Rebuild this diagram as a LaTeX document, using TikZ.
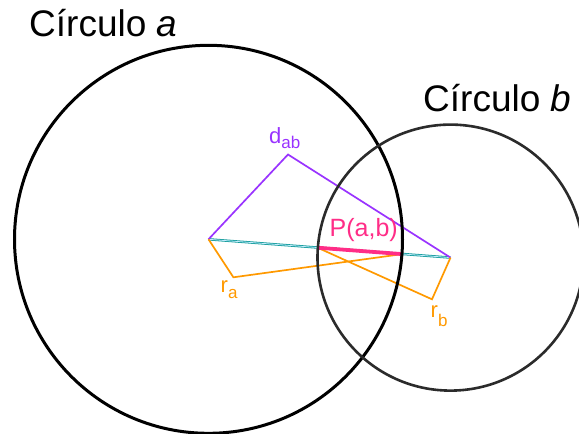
\documentclass[tikz,border=0pt]{standalone}
\usepackage{fontspec}
\setmainfont{Liberation Sans}
\definecolor{dabcol}{HTML}{9933FF}
\definecolor{rcol}{HTML}{FF9900}
\definecolor{pcol}{HTML}{FF2D87}
\definecolor{tealcol}{HTML}{119A9A}
\definecolor{circb}{HTML}{2B2B2B}
\newcommand{\sublbl}[3]{{\fontsize{22}{24}\selectfont #1}\raisebox{-#3}{\fontsize{17}{18}\selectfont #2}}
\tikzset{
  bigtitle/.style={anchor=base west, inner sep=0pt, font=\fontsize{37}{40}\selectfont},
  smalllbl/.style={anchor=base west, inner sep=0pt},
  purpleline/.style={draw=dabcol, line width=1.7pt, line join=miter},
  orangeline/.style={draw=rcol, line width=1.7pt, line join=miter},
  pinkline/.style={draw=pcol, line width=3.8pt},
  tealline/.style={draw=tealcol, line width=0.8pt, double=cyan!25, double distance=0.8pt},
}
\begin{document}
\begin{tikzpicture}[x=1pt,y=-1pt]
\useasboundingbox (0,0) rectangle (579,434);
\coordinate (ca) at (208.5,239.3);
\coordinate (cb) at (450.5,257.6);
\coordinate (dab) at (288,154.5);
\coordinate (rav) at (233.4,277.3);
\coordinate (rbv) at (432,299.3);
\coordinate (p1) at (317.6,247.7);
\coordinate (p2) at (402.2,254.1);
% lines
\draw[tealline] (ca) -- (cb);
\draw[purpleline] (ca) -- (dab) -- (cb);
\draw[orangeline] (ca) -- (rav) -- (p2);
\draw[orangeline] (cb) -- (rbv) -- (p1);
\draw[pinkline] (p1) -- (p2);
% circles
\draw[black, line width=3pt] (ca) circle (194);
\draw[circb, line width=2.6pt] (cb) circle (133);
% labels
\node[bigtitle] (ta) at (29,36) {Círculo \textit{a}};
\node[bigtitle] (tb) at (423,111.7) {Círculo \textit{b}};
\node[smalllbl, text=dabcol] (ldab) at (269,143) {\sublbl{d}{ab}{5pt}};
\node[smalllbl, text=rcol] (lra) at (220.5,292) {\sublbl{r}{a}{6pt}};
\node[smalllbl, text=rcol] (lrb) at (430.5,317) {\sublbl{r}{b}{9pt}};
\node[smalllbl, text=pcol, font=\fontsize{25}{27}\selectfont] (lp) at (329.5,236.5) {P(a,b)};
\end{tikzpicture}
\end{document}
